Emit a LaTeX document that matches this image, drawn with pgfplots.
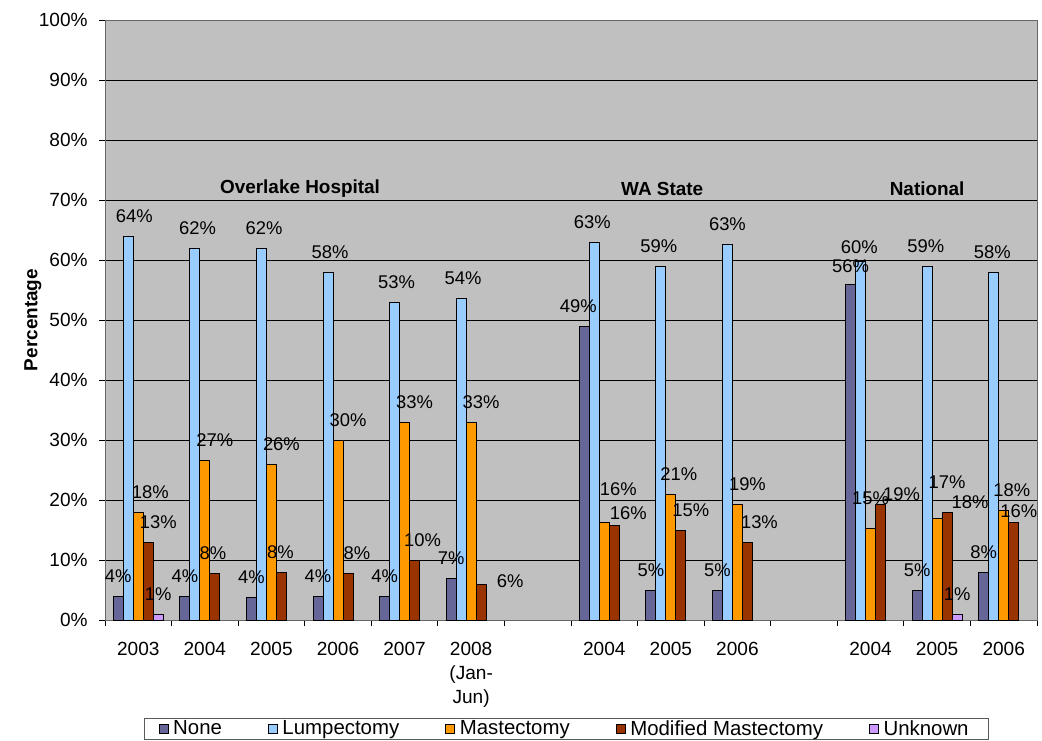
\documentclass[border=0pt]{standalone}
\usepackage{fontspec}
\setmainfont{Liberation Sans}
\usepackage{pgfplots}
\pgfplotsset{compat=1.18}
\definecolor{cNone}{HTML}{666699}
\definecolor{cLump}{HTML}{99CCFF}
\definecolor{cMast}{HTML}{FF9900}
\definecolor{cMod}{HTML}{993300}
\definecolor{cUnk}{HTML}{CC99FF}
\definecolor{bgc}{HTML}{C0C0C0}
\newcommand\fs{\fontsize{14.3}{18}\selectfont}
\newcommand\fd{\fontsize{13.8}{16}\selectfont}
\newcommand\fl{\fontsize{15.3}{18}\selectfont}
\newcommand\ft{\fontsize{14.2}{16}\selectfont\bfseries}
\newcommand\fy{\fontsize{14.2}{17}\selectfont\bfseries}
\pgfplotsset{
  lbl/.style={
    visualization depends on={\thisrow{dx}\as\dx},
    visualization depends on={\thisrow{dy}\as\dy},
    every node near coord/.append style={xshift=\dx pt, yshift=\dy pt}}
}
\begin{document}
\begin{tikzpicture}[font=\fs]
\useasboundingbox (-78.75pt,-90pt) rectangle (702.75pt,465pt);
\begin{axis}[
  at={(0,0)}, anchor=south west, scale only axis,
  width=699pt, height=450pt,
  ybar=0pt, bar width=7.5pt,
  xmin=-0.5, xmax=13.5, ymin=0, ymax=100,
  axis background/.style={fill=bgc},
  axis line style={draw=gray!80!black, line width=0.6pt},
  ytick={0,10,...,100},
  yticklabel={\pgfmathprintnumber{\tick}\%},
  /pgf/number format/assume math mode=true,
  ymajorgrids, grid style={black, line width=0.6pt},
  xtick={0,...,13},
  xticklabels={2003,2004,2005,2006,2007,{2008\\(Jan-\\Jun)},{},2004,2005,2006,{},2004,2005,2006},
  x tick label style={align=center, font=\fs, yshift=-8.5pt},
  y tick label style={font=\fs, xshift=-5pt},
  xtick pos=bottom, ytick pos=left,
  major x tick style={draw=none},
  minor xtick={-0.5,0.5,...,13.5},
  tick align=outside, major tick length=4.5pt, minor tick length=4.5pt,
  tick style={black, line width=0.6pt},
  every axis y label/.style={at={(axis description cs:-0.0773,0.5)}, rotate=90, anchor=center, font=\fy},
  ylabel={Percentage},
  nodes near coords={\pgfmathprintnumber[fixed,precision=0]{\pgfplotspointmeta}\%},
  every node near coord/.append style={anchor=south, inner sep=0pt, yshift=10pt, font=\fd, text=black},
  legend image code/.code={\draw[#1, draw=black, line width=0.6pt] (0pt,-3.4pt) rectangle (6.8pt,3.4pt);},
  legend columns=5,
  legend style={at={(0.4946,-0.199)}, anchor=south, draw=gray!70!black, line width=0.6pt, fill=white, font=\fl,
    inner xsep=11pt, inner ysep=1pt,
    nodes={inner ysep=0.5pt, inner xsep=3.5pt},
    /tikz/every even column/.append style={column sep=31pt},
    /tikz/every odd column/.append style={column sep=0pt}},
]
\addplot[fill=cNone, draw=black, line width=0.6pt, lbl] table[x=x, y=y] {
x  y    dx   dy
0  3.9  0    0
1  4    0    0
2  3.8  0    0
3  4    0    0
4  4    0    0
5  7    0    0
7  49   -4.5 0
8  5    0    0
9  5    0    0
11 56   0    -1.5
12 5    0    0
13 8    0    0
};
\addplot[fill=cLump, draw=black, line width=0.6pt, lbl] table[x=x, y=y] {
x  y    dx   dy
0  64   4.5  0
1  62   2    0
2  62   2    0
3  58   1.5  0
4  53   1.5  0
5  53.6 1.5  0
7  63   -1.5 0
8  59   -1.5 0
9  62.6 0    0
11 59.7 -1   -4.5
12 59   -1   0
13 58   -1   0
};
\addplot[fill=cMast, draw=black, line width=0.6pt, lbl] table[x=x, y=y] {
x  y    dx   dy
0  18   9    0
1  26.6 7.5  0
2  26   7.5  0
3  30   7.5  0
4  33   7.5  0
5  33   7.5  0
7  16.2 10.5 9.75
8  21   6    0
9  19.3 7.5  0
11 15.3 0    7.5
12 17   7.5  12
13 18.3 6    0
};
\addplot[fill=cMod, draw=black, line width=0.6pt, lbl] table[x=x, y=y] {
x  y    dx    dy
0  13   7.5   0
1  7.7  -1.5  0
2  8    -0.75 0
3  7.7  6.75  0
4  10   6     0
5  6    21.75 -12.75
7  15.7 10.5  -6
8  15   7.5   0
9  13   9     0
11 19.3 15.75 -7.5
12 18   17.25 -7.5
13 16.3 3.75  -6.75
};
\addplot[fill=cUnk, draw=black, line width=0.6pt, lbl] table[x=x, y=y] {
x  y  dx dy
0  1  0  0
12 1  0  0
};
\legend{None,Lumpectomy,Mastectomy,Modified Mastectomy,Unknown}
\node[font=\ft] at (axis cs:2.43,71.9) {Overlake Hospital};
\node[font=\ft] at (axis cs:7.87,71.9) {WA State};
\node[font=\ft] at (axis cs:11.85,71.9) {National};
\end{axis}
\end{tikzpicture}
\end{document}
